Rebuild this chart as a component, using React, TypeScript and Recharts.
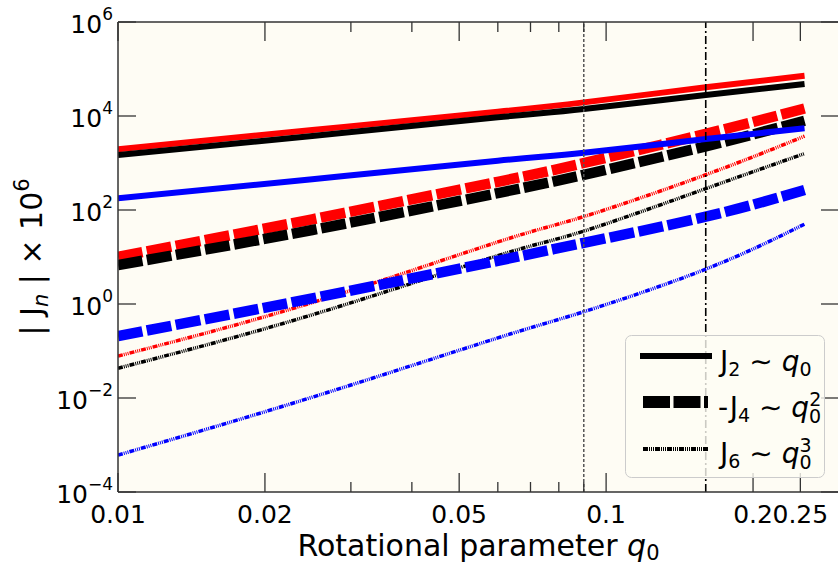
import React from 'react';
import { LineChart, Line, XAxis, YAxis, ReferenceLine, Legend, CartesianGrid } from 'recharts';

// rotational parameter q0 where the curves were read
const qValues = [0.01, 0.025, 0.06, 0.09, 0.16, 0.255];

// |Jn| x 1e6, three models (red, black, blue)
const j2Red = [1954, 5035, 12360, 19500, 40740, 71600];
const j2Black = [1479, 3750, 9376, 14090, 27990, 47970];
const j2Blue = [177, 450, 1119, 1660, 3236, 5495];
const j4Red = [10.1, 63.4, 398, 1000, 4170, 14450];
const j4Black = [6.76, 37.5, 229, 562, 2265, 7943];
const j4Blue = [0.208, 1.32, 8.3, 20, 72, 267];
const j6Red = [0.078, 1.07, 20.9, 72.4, 562, 3715];
const j6Black = [0.043, 0.59, 10.7, 35.5, 285, 1585];
const j6Blue = [0.00061, 0.0104, 0.19, 0.685, 5.52, 50];

const xTicks = [0.01, 0.02, 0.03, 0.04, 0.05, 0.06, 0.07, 0.08, 0.09, 0.1, 0.2, 0.25];
const xMajor = [0.01, 0.02, 0.05, 0.1, 0.2, 0.25];
const xMajorLabels = ['0.01', '0.02', '0.05', '0.1', '0.2', '0.25'];
const yTicks = [1e-4, 1e-2, 1, 1e2, 1e4, 1e6];
const yExponents = ['\u22124', '\u22122', '0', '2', '4', '6'];

const qMarkers = [0.09, 0.16];

const data = qValues.map((q, i) => ({
  q,
  j2Red: j2Red[i], j2Black: j2Black[i], j2Blue: j2Blue[i],
  j4Red: j4Red[i], j4Black: j4Black[i], j4Blue: j4Blue[i],
  j6Red: j6Red[i], j6Black: j6Black[i], j6Blue: j6Blue[i],
}));

const AXIS = '#333';
const BG = '#fefcf4';
const J4_DASH = '25 4.5';
const J6_DASH = '5 1 1 1 1 1 1 1';

const BottomTick = (props: any) => {
  const { x, y, payload } = props;
  const idx = xMajor.indexOf(payload.value);
  const major = idx >= 0;
  return (
    <g>
      <line x1={x} x2={x} y1={y} y2={y - (major ? 19 : 10)} stroke={AXIS} strokeWidth={1.3} />
      {major && (
        <text x={x} y={y + 31} textAnchor="middle" fontSize={25} fill="#000">{xMajorLabels[idx]}</text>
      )}
    </g>
  );
};

const TopTick = (props: any) => {
  const { x, y, payload } = props;
  const major = xMajor.includes(payload.value);
  return <line x1={x} x2={x} y1={y} y2={y + (major ? 19 : 10)} stroke={AXIS} strokeWidth={1.3} />;
};

const LeftTick = (props: any) => {
  const { x, y, payload } = props;
  const idx = yTicks.indexOf(payload.value);
  return (
    <g>
      <line x1={x} x2={x + 18} y1={y} y2={y} stroke={AXIS} strokeWidth={1.3} />
      <text x={x - 5} y={y + 11} textAnchor="end" fontSize={25} fill="#000">
        10<tspan fontSize={17} dy={-13}>{yExponents[idx]}</tspan>
      </text>
    </g>
  );
};

const RightTick = (props: any) => {
  const { x, y } = props;
  return <line x1={x} x2={x - 18} y1={y} y2={y} stroke={AXIS} strokeWidth={1.3} />;
};

const Sim = () => <tspan fontSize={28} dy={-5}> {'\u223C'} </tspan>;

const LegendBox = () => (
  <svg width={200} height={143} style={{ display: 'block', overflow: 'visible' }}>
    <rect x={0.5} y={0.5} width={199} height={142} rx={6} fill={BG} fillOpacity={0.8} stroke="#ccc" />
    <line x1={15} x2={87} y1={21} y2={21} stroke="#000" strokeWidth={6} />
    <line x1={18} x2={83} y1={67} y2={67} stroke="#000" strokeWidth={12} strokeDasharray="27 3.5" />
    <line x1={18} x2={83} y1={114} y2={114} stroke="#000" strokeWidth={4} strokeDasharray={J6_DASH} />
    <g fontSize={28} fill="#000">
      <text x={95} y={36}>
        J<tspan fontSize={19} dy={5}>2</tspan>
        <Sim />
        <tspan fontStyle="italic">q</tspan>
        <tspan fontSize={19} dy={5}>0</tspan>
      </text>
      <text x={93} y={82}>
        -J<tspan fontSize={19} dy={5}>4</tspan>
        <Sim />
        <tspan fontStyle="italic">q</tspan>
        <tspan fontSize={19} dy={6}>0</tspan>
        <tspan fontSize={19} dx={-12} dy={-17}>2</tspan>
      </text>
      <text x={95} y={128}>
        J<tspan fontSize={19} dy={5}>6</tspan>
        <Sim />
        <tspan fontStyle="italic">q</tspan>
        <tspan fontSize={19} dy={6}>0</tspan>
        <tspan fontSize={19} dx={-12} dy={-17}>3</tspan>
      </text>
    </g>
  </svg>
);

const XTitle = (props: any) => {
  const { viewBox } = props;
  const cx = viewBox.x + viewBox.width / 2;
  return (
    <text x={cx} y={556} textAnchor="middle" fontSize={30} fill="#000">
      Rotational parameter <tspan fontStyle="italic">q</tspan>
      <tspan fontSize={21} dy={4}>0</tspan>
    </text>
  );
};

const YTitle = (props: any) => {
  const { viewBox } = props;
  const cy = viewBox.y + viewBox.height / 2;
  return (
    <text x={42} y={cy} transform={`rotate(-90, 42, ${cy})`} textAnchor="middle" fontSize={30} fill="#000">
      | J<tspan fontSize={21} dy={6} fontStyle="italic">n</tspan>
      <tspan dy={-6}> | × 10</tspan>
      <tspan fontSize={21} dy={-13}>6</tspan>
    </text>
  );
};

const series = [
  { key: 'j2Red', color: '#ff0000', width: 6, dash: undefined },
  { key: 'j4Red', color: '#ff0000', width: 10.5, dash: J4_DASH },
  { key: 'j6Red', color: '#ff0000', width: 3.5, dash: J6_DASH },
  { key: 'j2Black', color: '#000000', width: 6, dash: undefined },
  { key: 'j4Black', color: '#000000', width: 10.5, dash: J4_DASH },
  { key: 'j6Black', color: '#000000', width: 3.5, dash: J6_DASH },
  { key: 'j2Blue', color: '#0000ff', width: 6, dash: undefined },
  { key: 'j4Blue', color: '#0000ff', width: 10.5, dash: J4_DASH },
  { key: 'j6Blue', color: '#0000ff', width: 3.5, dash: J6_DASH },
];

export default function App() {
  return (
    <div style={{ position: 'absolute', left: 0, top: 0, width: 838, height: 566, overflow: 'hidden', background: '#fff', fontFamily: '"DejaVu Sans", sans-serif' }}>
      <LineChart width={840} height={566} data={data} margin={{ top: 0, right: 0, bottom: 0, left: 0 }}>
        <CartesianGrid horizontal={false} vertical={false} fill={BG} stroke="none" />
        <XAxis
          dataKey="q" type="number" scale="log" domain={[0.01, 0.3]} allowDataOverflow
          ticks={xTicks} interval={0} height={74} tickSize={0} tickMargin={0}
          axisLine={{ stroke: AXIS, strokeWidth: 1.5 }} tickLine={false} tick={<BottomTick />}
          label={<XTitle />}
        />
        <XAxis
          xAxisId="top" orientation="top" dataKey="q" type="number" scale="log" domain={[0.01, 0.3]} allowDataOverflow
          ticks={xTicks} interval={0} height={22} tickSize={0} tickMargin={0}
          axisLine={{ stroke: AXIS, strokeWidth: 1.5 }} tickLine={false} tick={<TopTick />}
        />
        <YAxis
          type="number" scale="log" domain={[1e-4, 1e6]} allowDataOverflow
          ticks={yTicks} interval={0} width={118} tickSize={0} tickMargin={0}
          axisLine={{ stroke: AXIS, strokeWidth: 1.5 }} tickLine={false} tick={<LeftTick />}
          label={<YTitle />}
        />
        <YAxis
          yAxisId="right" orientation="right" type="number" scale="log" domain={[1e-4, 1e6]} allowDataOverflow
          ticks={yTicks} interval={0} width={1} tickSize={0} tickMargin={0}
          axisLine={{ stroke: AXIS, strokeWidth: 1.5 }} tickLine={false} tick={<RightTick />}
        />
        {series.map((s) => (
          <Line
            key={s.key} dataKey={s.key} type="natural" stroke={s.color} strokeWidth={s.width}
            strokeDasharray={s.dash} dot={false} activeDot={false} isAnimationActive={false}
          />
        ))}
        <ReferenceLine x={qMarkers[0]} stroke="#555" strokeWidth={1.5} strokeDasharray="3 2" />
        <ReferenceLine x={qMarkers[1]} stroke="#000" strokeWidth={1.6} strokeDasharray="8 3 2 3" />
        <Legend
          layout="vertical" align="center" verticalAlign="middle"
          wrapperStyle={{ left: 625, top: 335, width: 200, height: 143 }}
          content={() => <LegendBox />}
        />
      </LineChart>
    </div>
  );
}
